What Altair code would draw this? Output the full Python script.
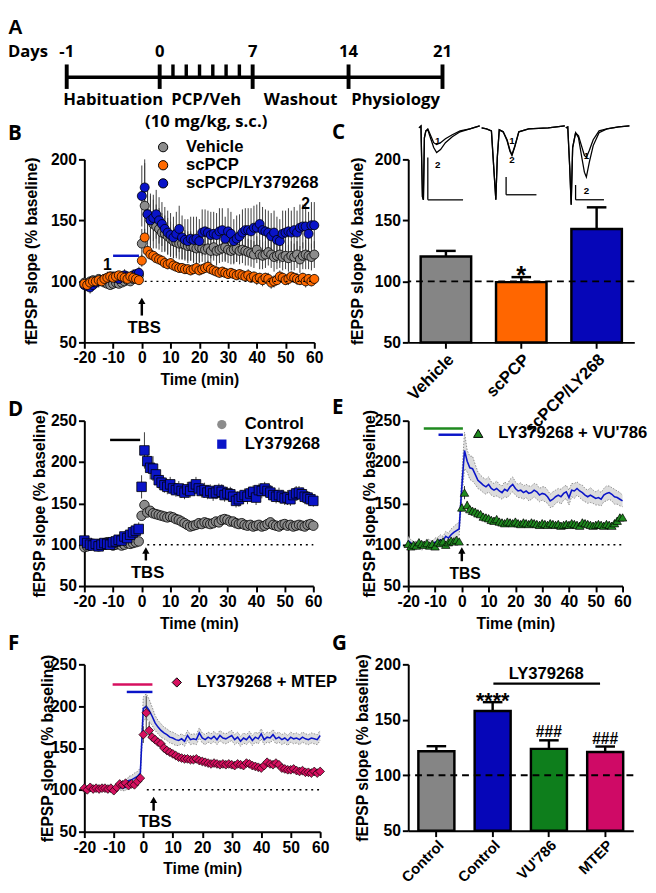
import json
import altair as alt
import pandas as pd

FONT = "Liberation Sans"
LFONT = "Open Sans"

GRAY = "#8c8c8c"
ORANGE = "#ff6a00"
BLUE = "#0a14c8"
GREEN = "#1f8a1f"
PINK = "#d6105f"
ERR = "#3c3c3c"
BAND = "#dcdcdc"
BAR_GRAY = "#858585"
BAR_ORANGE = "#ff6600"
BAR_BLUE = "#0606b8"
BAR_GREEN = "#0e7e1c"
BAR_PINK = "#cf0a66"

YTITLE = "fEPSP slope (% baseline)"

# ------------------------------------------------------------------ data
minutes = list(range(-20, 61))
time_ticks = [-20, -10, 0, 10, 20, 30, 40, 50, 60]
y_ticks_200 = [50, 100, 150, 200]
y_ticks_250 = [50, 100, 150, 200, 250]

# Panel A timeline
day_ticks = [-1, 0, 7, 14, 21]
day_tick_labels = ["-1", "0", "7", "14", "21"]
injection_days = [1, 2, 3, 4, 5, 6]
phase_names = ["Habituation", "PCP/Veh", "Washout", "Physiology"]
phase_centers = [-0.5, 3.5, 10.5, 17.5]
dose_label = "(10 mg/kg, s.c.)"

# Panel B
b_names = ["Vehicle", "scPCP", "scPCP/LY379268"]
b_vehicle = [99, 98, 100, 101, 100, 102, 101, 99, 98, 97, 98, 99, 98, 99, 100, 101, 100, 102, 103, 105,
             131, 162, 155, 150, 147, 145, 143, 140, 139, 137,
             135, 133, 132, 131, 131, 130, 129, 129, 128, 127,
             128, 127, 126, 127, 125, 128, 125, 126, 127, 128,
             126, 125, 126, 127, 125, 126, 125, 124, 123, 122,
             126, 122, 121, 122, 124, 122, 120, 121, 122, 120,
             121, 119, 121, 120, 122, 118, 121, 122, 121, 120, 122]
b_vehicle_sem = [3, 4, 3, 3, 4, 3, 3, 4, 3, 3, 4, 3, 3, 3, 4, 3, 3, 4, 4, 4,
                 12, 38, 25, 22, 20, 18, 17, 16, 15, 15,
                 14, 14, 13, 13, 13, 12, 12, 12, 12, 12,
                 12, 11, 11, 12, 11, 11, 12, 11, 11, 12,
                 11, 11, 12, 11, 11, 11, 12, 11, 11, 11,
                 11, 12, 11, 11, 11, 11, 12, 11, 11, 11,
                 11, 11, 12, 11, 11, 11, 11, 12, 11, 11, 11]
b_pcp = [98, 97, 99, 100, 100, 101, 100, 102, 103, 104, 103, 104, 105, 104, 103, 102, 104, 103, 102, 101,
         117, 136, 125, 122, 121, 119, 118, 117, 115, 114,
         115, 113, 112, 111, 111, 110, 110, 109, 110, 111,
         109, 110, 111, 112, 110, 109, 108, 107, 108, 107,
         106, 107, 106, 105, 106, 105, 104, 105, 103, 104,
         102, 103, 101, 103, 102, 99, 100, 101, 104, 103,
         101, 102, 104, 103, 102, 101, 103, 100, 102, 100, 102]
b_pcp_sem = [3, 3, 2, 3, 3, 2, 3, 3, 3, 2, 3, 3, 3, 2, 3, 3, 3, 2, 3, 3,
             5, 7, 5, 4, 4, 4, 4, 4, 4, 4,
             4, 4, 4, 4, 4, 4, 4, 4, 4, 5,
             4, 4, 4, 5, 4, 4, 4, 4, 4, 4,
             4, 4, 4, 4, 4, 4, 4, 5, 4, 4,
             5, 4, 5, 4, 5, 5, 5, 4, 5, 4,
             4, 5, 4, 4, 5, 4, 4, 5, 4, 4, 4]
b_ly = [97, 96, 95, 97, 99, 100, 101, 102, 103, 104, 104, 103, 102, 104, 105, 104, 103, 105, 106, 107,
        170, 177, 155, 150, 152, 155, 150, 147, 143, 140,
        138, 136, 139, 143, 136, 134, 133, 135, 134, 135,
        133, 140, 141, 140, 138, 139, 138, 141, 142, 135,
        141, 139, 133, 135, 137, 140, 142, 142, 141, 144,
        144, 147, 142, 141, 140, 137, 140, 134, 133, 139,
        140, 141, 140, 142, 140, 144, 145, 145, 139, 146, 146]
b_ly_sem = [4, 4, 5, 4, 4, 5, 4, 4, 5, 4, 4, 5, 4, 4, 5, 4, 4, 5, 4, 5,
            25, 20, 22, 20, 19, 20, 19, 18, 18, 18,
            18, 17, 18, 19, 18, 17, 18, 18, 19, 18,
            18, 19, 18, 18, 19, 18, 18, 19, 18, 18,
            19, 18, 18, 19, 18, 19, 18, 18, 19, 18,
            19, 18, 19, 18, 18, 19, 18, 19, 18, 19,
            18, 19, 18, 19, 18, 19, 18, 19, 18, 19, 19]

# Panel C
c_cats = ["Vehicle", "scPCP", "scPCP/LY268"]
c_mean = [120.4, 99.4, 143.0]
c_sem = [4.6, 4.1, 17.7]
c_colors = [BAR_GRAY, BAR_ORANGE, BAR_BLUE]
# inset fEPSP traces (x in inset units, y in % baseline axis units)
tr1_x = [11, 13, 14.5, 15.5, 16.5, 18, 20, 23, 26, 29, 33, 38, 45, 53, 63, 73]
tr1_a = [225.8, 227.4, 169.4, 166.9, 217.7, 223.4, 225.0, 219.4, 213.7, 212.1, 213.7, 216.9, 220.2, 223.4, 225.0, 227.4]
tr1_b = [225.8, 227.4, 169.4, 166.9, 217.7, 223.4, 224.2, 216.9, 209.7, 205.6, 208.1, 213.7, 218.5, 222.6, 225.0, 227.4]
tr2_x = [75, 80, 85, 88, 89.5, 91, 93, 97, 101, 104, 106, 109, 113, 123, 143, 160]
tr2_a = [225.8, 225.0, 223.4, 185.5, 166.9, 201.6, 224.2, 222.6, 216.1, 207.3, 204.0, 211.3, 222.6, 225.0, 225.8, 227.4]
tr2_b = [225.8, 225.0, 223.4, 185.5, 166.9, 201.6, 224.2, 222.6, 215.3, 206.5, 203.2, 210.5, 222.6, 225.0, 225.8, 227.4]
tr3_x = [161, 163, 165, 166.5, 168, 171, 174, 177, 180, 182, 185, 189, 195, 203, 215, 226]
tr3_a = [225.8, 226.6, 193.5, 162.9, 209.7, 221.8, 219.4, 211.3, 203.2, 201.6, 207.3, 216.1, 223.4, 225.0, 226.6, 227.4]
tr3_b = [225.8, 226.6, 193.5, 162.9, 209.7, 221.8, 217.7, 203.2, 189.5, 185.5, 197.6, 211.3, 221.8, 225.0, 226.6, 227.4]
sb_x = [20, 100, 171]
sb_x2 = [56, 131, 200]
sb_top = [201.6, 185.5, 179.0]
sb_bottom = [166.9, 171.0, 166.9]
tl_x = [30, 30, 106, 106, 182, 182]
tl_y = [215.3, 195.2, 215.3, 199.2, 202.4, 174.2]
tl_text = ["1", "2", "1", "2", "1", "2"]

# Panel D
d_names = ["Control", "LY379268"]
d_control = [97, 98, 99, 101, 100, 98, 99, 102, 103, 101, 99, 100, 101, 99, 100, 102, 101, 102, 103, 104,
             135, 148, 139, 141, 138, 137, 136, 135, 134, 133,
             134, 133, 131, 130, 128, 126, 124, 122, 123, 124,
             126, 125, 127, 126, 125, 126, 128, 127, 130, 131,
             130, 128, 128, 126, 125, 126, 124, 123, 124, 122,
             123, 124, 122, 123, 125, 127, 124, 123, 122, 124,
             125, 123, 124, 122, 123, 124, 123, 122, 124, 125, 123]
d_control_sem = [3, 3, 2, 3, 3, 2, 3, 3, 3, 2, 3, 3, 3, 2, 3, 3, 3, 2, 3, 3,
                 4, 6, 4, 4, 4, 3, 3, 3, 3, 3,
                 3, 3, 3, 3, 3, 3, 3, 3, 3, 3,
                 3, 3, 3, 3, 3, 3, 3, 3, 3, 3,
                 3, 3, 3, 3, 3, 3, 3, 3, 3, 3,
                 3, 3, 3, 3, 3, 3, 3, 3, 3, 3,
                 3, 3, 3, 3, 3, 3, 3, 3, 3, 3, 3]
d_ly = [105, 102, 100, 99, 101, 98, 100, 102, 101, 100, 103, 104, 106, 105, 110, 108, 112, 115, 117, 119,
        170, 214, 201, 193, 192, 185, 178, 175, 172, 170,
        173, 168, 166, 168, 165, 163, 167, 165, 170, 173,
        168, 165, 166, 163, 165, 162, 163, 166, 164, 160,
        162, 161, 158, 153, 155, 158, 160, 158, 162, 164,
        157, 166, 165, 168, 165, 163, 160, 158, 160, 158,
        156, 157, 155, 160, 162, 163, 161, 158, 157, 155, 153]
d_ly_sem = [5, 4, 4, 5, 4, 5, 4, 5, 5, 4, 5, 5, 6, 5, 6, 6, 7, 7, 8, 8,
            14, 22, 13, 14, 15, 12, 10, 9, 9, 9,
            9, 8, 8, 9, 8, 8, 9, 8, 9, 9,
            8, 8, 9, 8, 8, 9, 8, 8, 9, 8,
            8, 9, 8, 8, 9, 8, 8, 9, 8, 8,
            9, 8, 9, 8, 8, 9, 8, 8, 9, 8,
            8, 9, 8, 8, 9, 8, 8, 9, 8, 8, 7]

# Panel E (LY379268 trace re-plotted as line + SEM band)
e_name = "LY379268 + VU'786"
e_vu = [101, 98, 100, 99, 103, 101, 100, 102, 99, 101, 98, 103, 102, 104, 100, 103, 105, 104, 106, 104,
        145, 163, 148, 143, 141, 140, 138, 137, 134, 133,
        132, 130, 129, 131, 128, 127, 126, 128, 127, 126,
        128, 126, 125, 127, 126, 125, 127, 126, 125, 124,
        126, 125, 124, 126, 125, 124, 125, 123, 124, 125,
        124, 126, 125, 124, 123, 127, 126, 125, 124, 123,
        124, 125, 124, 123, 125, 124, 123, 126, 129, 133, 133]
e_vu_sem = [3, 3, 2, 3, 3, 2, 3, 3, 3, 2, 3, 3, 3, 2, 3, 3, 3, 2, 3, 3,
            5, 8, 5, 4, 4, 4, 4, 4, 4, 4,
            4, 4, 4, 4, 4, 4, 4, 4, 4, 4,
            4, 4, 4, 4, 4, 4, 4, 4, 4, 4,
            4, 4, 4, 4, 4, 4, 4, 4, 4, 4,
            4, 4, 4, 4, 4, 4, 4, 4, 4, 4,
            4, 4, 4, 4, 4, 4, 4, 4, 4, 4, 4]

# Panel F
f_name = "LY379268 + MTEP"
f_mtep = [102, 100, 103, 101, 102, 101, 102, 102, 101, 102, 99, 103, 107, 106, 108, 105, 107, 106, 110, 114,
          166, 192, 171, 163, 160, 157, 155, 150, 147, 145,
          143, 141, 139, 138, 137, 137, 136, 136, 137, 135,
          134, 133, 132, 131, 132, 131, 130, 131, 130, 131,
          130, 129, 131, 130, 129, 132, 131, 129, 128, 127,
          126, 129, 133, 131, 130, 132, 130, 126, 125, 124,
          124, 125, 123, 122, 123, 121, 121, 120, 122, 120, 122]
f_mtep_sem = [3, 3, 2, 3, 3, 2, 3, 3, 3, 2, 3, 3, 3, 2, 3, 3, 3, 3, 3, 4,
              10, 20, 10, 5, 4, 4, 4, 4, 4, 4,
              4, 4, 3, 3, 3, 3, 3, 3, 3, 3,
              3, 3, 3, 3, 3, 3, 3, 3, 3, 3,
              3, 3, 3, 3, 3, 3, 3, 3, 3, 3,
              3, 3, 3, 3, 3, 3, 3, 3, 3, 3,
              3, 3, 3, 3, 3, 3, 3, 3, 3, 3, 3]
f_ly = [100, 101, 102, 100, 101, 103, 102, 101, 100, 102, 101, 102, 103, 102, 103, 111, 112, 114, 116, 120,
        197, 200, 195, 188, 180, 175, 171, 168, 166, 163,
        162, 160, 159, 161, 158, 165, 160, 161, 160, 168,
        162, 160, 163, 161, 164, 160, 165, 162, 161, 163,
        165, 160, 163, 158, 162, 160, 164, 159, 163, 161,
        167, 160, 163, 162, 166, 161, 163, 160, 162, 159,
        163, 161, 162, 160, 163, 161, 160, 162, 161, 160, 165]
f_ly_sem = [3, 3, 3, 3, 3, 3, 3, 3, 3, 3, 3, 3, 3, 3, 4, 5, 5, 6, 6, 6,
            14, 15, 13, 11, 9, 8, 8, 7, 7, 7,
            7, 7, 6, 6, 6, 6, 6, 6, 6, 6,
            6, 6, 6, 6, 6, 6, 6, 6, 6, 6,
            6, 6, 6, 6, 6, 6, 6, 6, 6, 6,
            6, 6, 6, 6, 6, 6, 6, 6, 6, 6,
            6, 6, 6, 6, 6, 6, 6, 6, 6, 6, 6]

# Panel G
g_keys = ["c1", "c2", "c3", "c4"]
g_labels = ["Control", "Control", "VU'786", "MTEP"]
g_mean = [121.7, 157.9, 123.8, 120.9]
g_sem = [4.5, 8.0, 7.7, 5.0]
g_colors = [BAR_GRAY, BAR_BLUE, BAR_GREEN, BAR_PINK]
g_sig = ["", "****", "###", "###"]

ONE = pd.DataFrame({"k": [0]})


# ------------------------------------------------------------------ helpers
def long_df(names, vals, sems):
    rows = []
    for n, v, s in zip(names, vals, sems):
        for t, a, e in zip(minutes, v, s):
            rows.append({"t": t, "v": a, "lo": a - e, "hi": a + e, "grp": n})
    return pd.DataFrame(rows)


def xt(field="t"):
    return alt.X(f"{field}:Q", scale=alt.Scale(domain=[-20, 60], nice=False, zero=False),
                 axis=alt.Axis(values=time_ticks, tickCount=len(time_ticks), title="Time (min)",
                               labelFlush=False, labelOverlap=False, titlePadding=6,
                               labelExpr="'' + datum.value"))


def yv(field, top, ticks, tp):
    return alt.Y(f"{field}:Q", scale=alt.Scale(domain=[50, top], nice=False, zero=False),
                 axis=alt.Axis(values=ticks, tickCount=len(ticks), title=YTITLE, titlePadding=tp,
                               labelFlush=False, labelOverlap=False, labelExpr="'' + datum.value"))


def txt(chart_text, x, y, size=17, align="center", font=FONT, baseline="middle", color="black"):
    return alt.Chart(ONE).mark_text(text=chart_text, fontSize=size, fontWeight="bold", font=font,
                                    align=align, baseline=baseline, color=color).encode(x=x, y=y)


def letter(ch, base):
    return txt(ch, alt.value(-78), alt.value(base), size=21, align="left", font=LFONT, baseline="alphabetic")


def legend(lx, ly, off, rp, stype=None):
    kw = dict(orient="none", legendX=lx, legendY=ly, title=None, labelFont=FONT, labelFontSize=17,
              labelFontWeight="bold", labelColor="black", symbolSize=90, symbolStrokeColor="black",
              symbolStrokeWidth=1, labelOffset=off, rowPadding=rp, padding=0, symbolOpacity=1)
    if stype:
        kw["symbolType"] = stype
    return alt.Legend(**kw)


def tbs(x_arrow, tail, tip, x_text, y_text, size=17):
    arrow = alt.Chart(ONE).mark_rule(strokeWidth=2.5, color="black").encode(
        x=alt.datum(x_arrow), y=alt.datum(tail), y2=alt.datum(tip - 2))
    head = alt.Chart(ONE).mark_point(shape="triangle-up", filled=True, size=55, color="black",
                                     opacity=1).encode(x=alt.datum(x_arrow), y=alt.datum(tip - 2))
    label = txt("TBS", alt.datum(x_text), alt.datum(y_text), size=size)
    return [arrow, head, label]


def hline(x0, x1, y, color, width=2.5, dash=None):
    kw = dict(strokeWidth=width, color=color)
    if dash:
        kw["strokeDash"] = dash
    return alt.Chart(ONE).mark_rule(**kw).encode(x=alt.datum(x0), x2=alt.datum(x1), y=alt.datum(y))


# ------------------------------------------------------------------ Panel A
scaleA = alt.Scale(domain=day_ticks, range=[-18, 77, 172, 270, 366])
xA = alt.X("day:Q", scale=scaleA, axis=None)
a_line = alt.Chart(pd.DataFrame({"day": [day_ticks[0]], "day2": [day_ticks[-1]]})).mark_rule(
    strokeWidth=3.5, color="black").encode(x=xA, x2="day2:Q", y=alt.value(16))
a_major = alt.Chart(pd.DataFrame({"day": day_ticks, "lab": day_tick_labels})).mark_rule(
    strokeWidth=4, color="black").encode(x=xA, y=alt.value(3), y2=alt.value(28))
a_minor = alt.Chart(pd.DataFrame({"day": injection_days})).mark_rule(
    strokeWidth=3.5, color="black").encode(x=xA, y=alt.value(3), y2=alt.value(16))
a_daylab = alt.Chart(pd.DataFrame({"day": day_ticks, "lab": day_tick_labels})).mark_text(
    font=LFONT, fontWeight="bold", fontSize=17, color="black", baseline="alphabetic").encode(
    x=xA, y=alt.value(-5), text="lab:N")
a_phase = alt.Chart(pd.DataFrame({"day": phase_centers, "lab": phase_names})).mark_text(
    font=LFONT, fontWeight="bold", fontSize=17, color="black", baseline="alphabetic").encode(
    x=xA, y=alt.value(44), text="lab:N")
a_dose = alt.Chart(pd.DataFrame({"day": [phase_centers[1]], "lab": [dose_label]})).mark_text(
    font=LFONT, fontWeight="bold", fontSize=17, color="black", baseline="alphabetic").encode(
    x=xA, y=alt.value(67), text="lab:N")
a_days = txt("Days", alt.value(-78), alt.value(-5), size=17, align="left", font=LFONT, baseline="alphabetic")
a_letter = txt("A", alt.value(-78), alt.value(-28), size=21, align="left", font=FONT, baseline="alphabetic")
panelA = alt.layer(a_line, a_major, a_minor, a_daylab, a_phase, a_dose, a_days, a_letter).properties(
    width=200, height=20)

# ------------------------------------------------------------------ Panel B
dfB = long_df(["Vehicle", "scPCP/LY379268", "scPCP"], [b_vehicle, b_ly, b_pcp],
              [b_vehicle_sem, b_ly_sem, b_pcp_sem])
yB = lambda f: yv(f, 200, y_ticks_200, 11)
b_err = alt.Chart(dfB).mark_rule(color=ERR, strokeWidth=1).encode(x=xt(), y=yB("lo"), y2="hi:Q")
b_pts = alt.Chart(dfB).mark_point(filled=True, size=85, stroke="black", strokeWidth=0.8, opacity=1).encode(
    x=xt(), y=yB("v"),
    color=alt.Color("grp:N", scale=alt.Scale(domain=b_names, range=[GRAY, ORANGE, BLUE]),
                    legend=legend(72, -21, 15, 0.5)))
panelB = alt.layer(
    b_err, b_pts,
    hline(-10, -1, 121, BLUE),
    hline(1, 60, 100, "black", width=1.5, dash=[2, 4]),
    *tbs(0, 72, 86, 0.8, 61.6),
    txt("1", alt.datum(-12), alt.datum(113), size=16),
    txt("2", alt.datum(57), alt.datum(163), size=16),
    letter("B", -20),
).properties(width=235, height=187)

# ------------------------------------------------------------------ Panel C
WC = 231
dfC = pd.DataFrame({"cat": c_cats, "mean": c_mean, "top": [m + s for m, s in zip(c_mean, c_sem)]})
xC = alt.X("cat:N", scale=alt.Scale(domain=c_cats, paddingInner=0.33, paddingOuter=0.165),
           axis=alt.Axis(title=None, labelAngle=-45, labelFontSize=17, tickSize=6, labelPadding=3))
yC = lambda f: yv(f, 200, y_ticks_200, 9)
c_bars = alt.Chart(dfC).mark_bar(stroke="black", strokeWidth=2.5).encode(
    x=xC, y=yC("mean"), y2=alt.datum(50),
    color=alt.Color("cat:N", scale=alt.Scale(domain=c_cats, range=c_colors), legend=None))
c_err = alt.Chart(dfC).mark_rule(strokeWidth=2.5, color="black").encode(x=xC, y=yC("mean"), y2="top:Q")
c_cap = alt.Chart(dfC).mark_tick(thickness=2.5, size=20, color="black", opacity=1).encode(x=xC, y=yC("top"))
c_dash = alt.Chart(ONE).mark_rule(strokeDash=[7, 5], strokeWidth=2, color="black").encode(y=alt.datum(100))
c_star = alt.Chart(dfC[dfC["cat"] == "scPCP"]).mark_text(
    text="*", fontSize=26, fontWeight="bold", font=FONT, baseline="alphabetic", dy=7, color="black").encode(
    x=xC, y=yC("top"))
c_inner = alt.layer(c_bars, c_err, c_cap, c_dash, c_star, letter("C", -21))

tr_rows = []
for tid, (xs, ya, yb) in enumerate([(tr1_x, tr1_a, tr1_b), (tr2_x, tr2_a, tr2_b), (tr3_x, tr3_a, tr3_b)]):
    for x_, a_ in zip(xs, ya):
        tr_rows.append({"tx": x_, "tv": a_, "line": f"{tid}a"})
    for x_, b_ in zip(xs, yb):
        tr_rows.append({"tx": x_, "tv": b_, "line": f"{tid}b"})
dfTr = pd.DataFrame(tr_rows)
xTr = alt.X("tx:Q", scale=alt.Scale(domain=[0, WC], nice=False, zero=False), axis=None)
c_tr = alt.Chart(dfTr).mark_line(color="black", strokeWidth=1.3).encode(
    x=xTr, y=yC("tv"), detail="line:N")
dfSb = pd.DataFrame({"tx": sb_x, "tx2": sb_x2, "top": sb_top, "bot": sb_bottom})
c_sbv = alt.Chart(dfSb).mark_rule(color="black", strokeWidth=1.3).encode(x=xTr, y=yC("top"), y2="bot:Q")
c_sbh = alt.Chart(dfSb).mark_rule(color="black", strokeWidth=1.3).encode(x=xTr, x2="tx2:Q", y=yC("bot"))
dfTl = pd.DataFrame({"tx": tl_x, "tv": tl_y, "lab": tl_text})
c_tl = alt.Chart(dfTl).mark_text(fontSize=10, fontWeight="bold", font=FONT, color="black").encode(
    x=xTr, y=yC("tv"), text="lab:N")
panelC = alt.layer(c_inner, alt.layer(c_tr, c_sbv, c_sbh, c_tl)).resolve_scale(x="independent").properties(
    width=WC, height=187)

# ------------------------------------------------------------------ Panel D
dfD = long_df(d_names, [d_control, d_ly], [d_control_sem, d_ly_sem])
yD = lambda f: yv(f, 250, y_ticks_250, 3)
legD = legend(132, -4.5, 15, 2)
d_err = alt.Chart(dfD).mark_rule(color=ERR, strokeWidth=1).encode(x=xt(), y=yD("lo"), y2="hi:Q")
d_pts = alt.Chart(dfD).mark_point(filled=True, size=95, stroke="black", strokeWidth=0.8, opacity=1).encode(
    x=xt(), y=yD("v"),
    color=alt.Color("grp:N", scale=alt.Scale(domain=d_names, range=[GRAY, BLUE]), legend=legD),
    shape=alt.Shape("grp:N", scale=alt.Scale(domain=d_names, range=["circle", "square"]), legend=legD))
panelD = alt.layer(
    d_err, d_pts,
    hline(-11, -0.5, 226.7, "black"),
    hline(2, 60, 100, "black", width=1.5, dash=[2, 4]),
    *tbs(1.5, 81, 95, 2.1, 66),
    letter("D", -5),
).properties(width=234, height=169)


# ------------------------------------------------------------------ Panel E / F helpers
def band_layers(ref, ref_sem, yfun):
    df = pd.DataFrame({"t": minutes, "v": ref, "lo": [a - s for a, s in zip(ref, ref_sem)],
                       "hi": [a + s for a, s in zip(ref, ref_sem)]})
    band = alt.Chart(df).mark_area(color=BAND, opacity=1).encode(x=xt(), y=yfun("lo"), y2="hi:Q")
    e1 = alt.Chart(df).mark_line(color="#8a8a8a", strokeWidth=1, strokeDash=[1.5, 1.5]).encode(x=xt(), y=yfun("lo"))
    e2 = alt.Chart(df).mark_line(color="#8a8a8a", strokeWidth=1, strokeDash=[1.5, 1.5]).encode(x=xt(), y=yfun("hi"))
    ln = alt.Chart(df).mark_line(color=BLUE, strokeWidth=1.6).encode(x=xt(), y=yfun("v"))
    return [band, e1, e2, ln]


# ------------------------------------------------------------------ Panel E
yE = lambda f: yv(f, 250, y_ticks_250, -3)
dfE = long_df([e_name], [e_vu], [e_vu_sem])
e_err = alt.Chart(dfE).mark_rule(color=ERR, strokeWidth=1).encode(x=xt(), y=yE("lo"), y2="hi:Q")
e_pts = alt.Chart(dfE).mark_point(filled=True, size=75, shape="triangle-up", stroke="black",
                                  strokeWidth=0.7, opacity=1).encode(
    x=xt(), y=yE("v"),
    color=alt.Color("grp:N", scale=alt.Scale(domain=[e_name], range=[GREEN]),
                    legend=legend(63, 4.5, 12, 0, "triangle-up")))
panelE = alt.layer(
    *band_layers(d_ly, d_ly_sem, yE),
    e_err, e_pts,
    hline(-14.2, 0.4, 240.5, GREEN),
    hline(-8.7, 0.4, 233, BLUE),
    hline(1.8, 60, 100, "black", width=1.5, dash=[2, 4]),
    *tbs(0, 80, 95, 1.2, 64, size=16),
    letter("E", -7),
).properties(width=219, height=169)

# ------------------------------------------------------------------ Panel F
yF = lambda f: yv(f, 250, y_ticks_250, -5)
dfF = long_df([f_name], [f_mtep], [f_mtep_sem])
f_err = alt.Chart(dfF).mark_rule(color=ERR, strokeWidth=1).encode(x=xt(), y=yF("lo"), y2="hi:Q")
f_pts = alt.Chart(dfF).mark_point(filled=True, size=80, shape="diamond", stroke="black",
                                  strokeWidth=0.7, opacity=1).encode(
    x=xt(), y=yF("v"),
    color=alt.Color("grp:N", scale=alt.Scale(domain=[f_name], range=[PINK]),
                    legend=legend(86, 10, 12, 0, "diamond")))
panelF = alt.layer(
    *band_layers(f_ly, f_ly_sem, yF),
    f_err, f_pts,
    hline(-10.4, 3.1, 226, PINK),
    hline(-5.6, 3.1, 217, BLUE),
    hline(1.2, 60, 100, "black", width=1.5, dash=[2, 4]),
    *tbs(3.5, 75, 90, 4, 62),
    letter("F", -14.5),
).properties(width=241, height=171)

# ------------------------------------------------------------------ Panel G
WG = 230
dfG = pd.DataFrame({"cat": g_keys, "mean": g_mean, "top": [m + s for m, s in zip(g_mean, g_sem)],
                    "sig": g_sig})
g_label_expr = f"{json.dumps(g_labels)}[indexof({json.dumps(g_keys)}, datum.value)]"
xG = alt.X("cat:N", scale=alt.Scale(domain=g_keys, paddingInner=0.36, paddingOuter=0.18),
           axis=alt.Axis(title=None, labelAngle=-45, labelFontSize=15, tickSize=6, labelPadding=1,
                         labelExpr=g_label_expr))
yG = lambda f: yv(f, 200, y_ticks_200, 4)
g_bars = alt.Chart(dfG).mark_bar(stroke="black", strokeWidth=2.5).encode(
    x=xG, y=yG("mean"), y2=alt.datum(50),
    color=alt.Color("cat:N", scale=alt.Scale(domain=g_keys, range=g_colors), legend=None))
g_err = alt.Chart(dfG).mark_rule(strokeWidth=2.5, color="black").encode(x=xG, y=yG("mean"), y2="top:Q")
g_cap = alt.Chart(dfG).mark_tick(thickness=2.5, size=20, color="black", opacity=1).encode(x=xG, y=yG("top"))
g_dash = alt.Chart(ONE).mark_rule(strokeDash=[7, 5], strokeWidth=2, color="black").encode(y=alt.datum(100))
g_stars = alt.Chart(dfG[dfG["sig"] == "****"]).mark_text(
    fontSize=22, fontWeight="bold", font=FONT, baseline="alphabetic", dy=6, color="black").encode(
    x=xG, y=yG("top"), text="sig:N")
g_hash = alt.Chart(dfG[dfG["sig"] == "###"]).mark_text(
    fontSize=16, fontWeight="bold", font=FONT, baseline="alphabetic", dy=-3, color="black").encode(
    x=xG, y=yG("top"), text="sig:N")
g_ly_line = alt.Chart(ONE).mark_rule(strokeWidth=2.5, color="black").encode(
    x=alt.value(87), x2=alt.value(196), y=alt.datum(182.6))
g_ly_text = txt("LY379268", alt.value(141), alt.datum(191), size=17)
panelG = alt.layer(g_bars, g_err, g_cap, g_dash, g_stars, g_hash, g_ly_line, g_ly_text,
                   letter("G", -14.5)).properties(width=WG, height=170)

blank = alt.Chart(ONE).mark_point(opacity=0).encode(x=alt.value(0), y=alt.value(0)).properties(width=1, height=1)

chart = alt.concat(
    panelA, blank, panelB, panelC, panelD, panelE, panelF, panelG,
    columns=2, spacing={"row": 80, "column": 90}, bounds="flush",
).resolve_scale(
    x="independent", y="independent", color="independent", shape="independent"
).properties(padding=0).configure_axis(
    domainColor="black", domainWidth=2, tickColor="black", tickWidth=2, tickSize=6,
    labelColor="black", titleColor="black", labelFont=FONT, titleFont=FONT,
    labelFontSize=16, titleFontSize=16, labelFontWeight="bold", titleFontWeight="bold",
    grid=False, labelPadding=2, labelOverlap=False, labelFlush=False,
).configure_view(stroke=None)

chart.save("out.html", embed_options={"renderer": "svg", "actions": False})
